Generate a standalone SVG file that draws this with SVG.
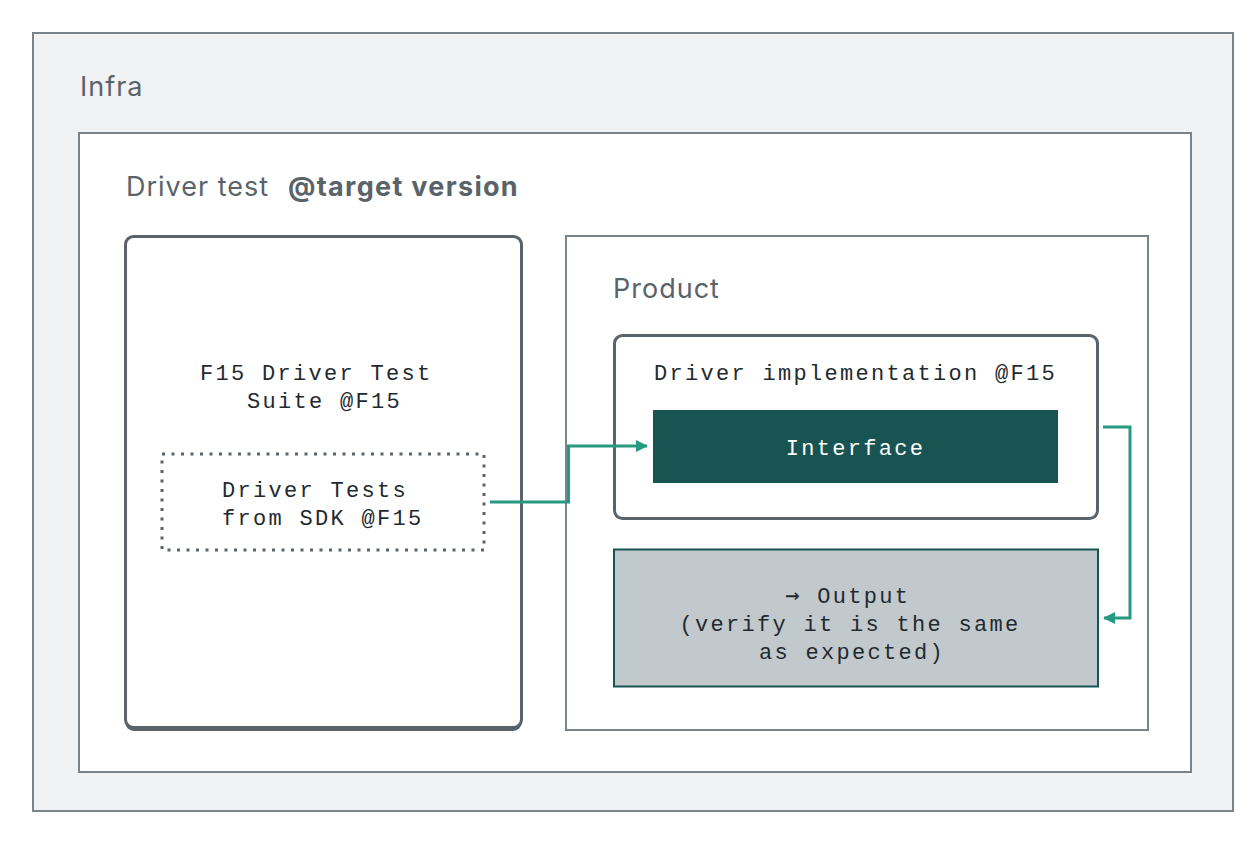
<svg xmlns="http://www.w3.org/2000/svg" width="1258" height="845" viewBox="0 0 1258 845">
<defs>
<style>
.sans{font-family:Inter,"Liberation Sans",sans-serif;fill:#5a6369;font-size:27px;letter-spacing:1px}
.mono{font-family:"Liberation Mono","DejaVu Sans Mono",monospace;font-size:22px;letter-spacing:2.3px;fill:#1f2a30}
.frame{fill:#ffffff;stroke:#7a8389;stroke-width:2}
.node{fill:#ffffff;stroke:#5a6369;stroke-width:3}
.conn{fill:none;stroke:#279980;stroke-width:3}
</style>
<marker id="arr" markerWidth="12" markerHeight="12" refX="11" refY="6" orient="auto" markerUnits="userSpaceOnUse">
<path d="M0,0 L12,6 L0,12 Z" fill="#279980"/>
</marker>
</defs>
<rect width="1258" height="845" fill="#ffffff"/>
<g id="infra">
<rect x="33" y="33" width="1200" height="778" fill="#f1f2f4" stroke="#7a8389" stroke-width="2"/>
<text class="sans" x="80" y="96">Infra</text>
</g>
<g id="driver-test">
<rect class="frame" x="79" y="133" width="1112" height="639"/>
<text class="sans" x="126" y="196">Driver test<tspan x="288" font-weight="bold" letter-spacing="1.3">@target version</tspan></text>
</g>
<g id="suite">
<rect x="125" y="238" width="397" height="493" rx="9" fill="#5a6369"/>
<rect class="node" x="125.5" y="236.5" width="396" height="491" rx="8"/>
<text class="mono" x="200" y="380">F15 Driver Test</text>
<text class="mono" x="247" y="408">Suite @F15</text>
</g>
<g id="sdk-tests">
<rect x="162" y="454" width="322" height="96" fill="none" stroke="#5a6369" stroke-width="3" stroke-dasharray="3 6.5"/>
<text class="mono" x="222" y="497">Driver Tests</text>
<text class="mono" x="222" y="525">from SDK @F15</text>
</g>
<g id="product">
<rect class="frame" x="566" y="236" width="582" height="494" stroke-width="1.5"/>
<text class="sans" x="613" y="298">Product</text>
</g>
<g id="driver-impl">
<rect class="node" x="614.5" y="335.5" width="483" height="183" rx="8"/>
<text class="mono" x="654" y="380">Driver implementation @F15</text>
</g>
<g id="interface">
<rect x="653" y="410" width="405" height="73" fill="#185452"/>
<text class="mono" x="855.5" y="455" text-anchor="middle" style="fill:#ffffff">Interface</text>
</g>
<g id="output">
<rect x="614" y="549.5" width="484" height="137" fill="#c2c9cc" stroke="#185452" stroke-width="2"/>
<text class="mono" x="785" y="603"><tspan font-family="'DejaVu Sans Mono',monospace" font-size="24">→</tspan> Output</text>
<text class="mono" x="850" y="631" text-anchor="middle">(verify it is the same</text>
<text class="mono" x="852" y="659" text-anchor="middle">as expected)</text>
</g>
<g id="connectors">
<path class="conn" d="M490,502 H568.5 V446 H647" marker-end="url(#arr)"/>
<path class="conn" d="M1103,427 H1130 V618 H1104" marker-end="url(#arr)"/>
</g>
</svg>
